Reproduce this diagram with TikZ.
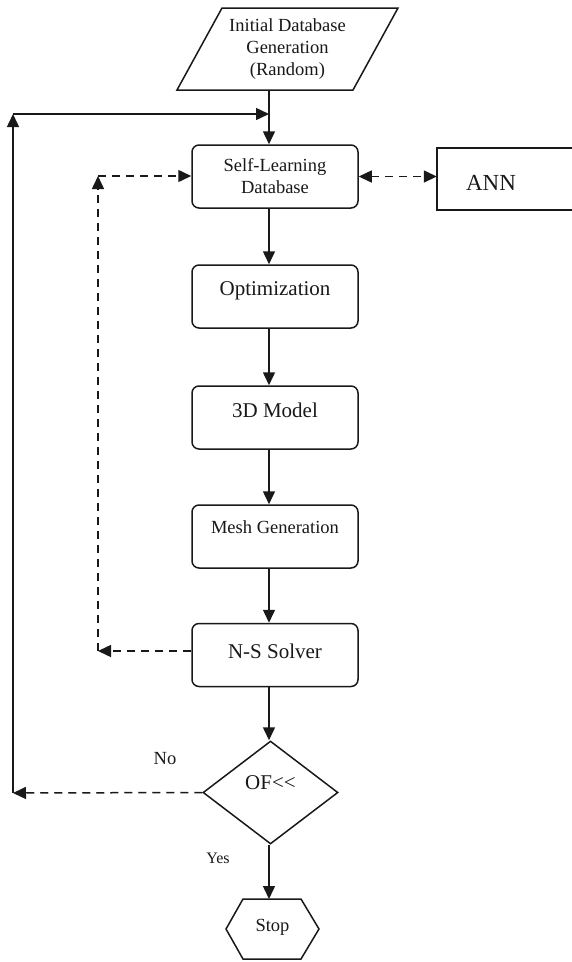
\documentclass[tikz,border=0pt]{standalone}
\usepackage{fontspec}
\setmainfont{Liberation Serif}
\usetikzlibrary{arrows.meta,shapes.geometric}
\begin{document}
\begin{tikzpicture}[x=1pt,y=-1pt,
  ink/.style={draw=black!90, line width=1.5pt},
  box/.style={ink, rounded corners=7pt, minimum width=166pt, minimum height=63pt, inner sep=0pt},
  flow/.style={ink, -{Triangle[length=13pt,width=12pt]}},
  dflow/.style={flow, dash pattern=on 8pt off 6pt},
  txt/.style={text=black!90, inner sep=0pt, align=center},
  fS/.style={font=\fontsize{16}{19}\selectfont},
  fA/.style={font=\fontsize{18.5}{22}\selectfont},
  fB/.style={font=\fontsize{21}{25}\selectfont},
  fC/.style={font=\fontsize{23}{27}\selectfont},
]
\useasboundingbox[fill=white] (0,0) rectangle (571,962);
\coordinate (mx) at (269,0);

% initial database (parallelogram)
\draw[ink] (222,8) -- (398,8) -- (353,90) -- (177,90) -- cycle;
\node[txt,fA] (init) at (287.5,49) {Initial Database\\Generation\\(Random)};
\coordinate (initb) at (269,90);

% process boxes
\node[box, label={[txt,fA]center:{Self-Learning\\Database}}] (sl) at (275,176.5) {};
\node[box, label={[txt,fB,yshift=6pt]center:Optimization}] (opt) at (275,296.5) {};
\node[box, label={[txt,fB,yshift=7pt]center:3D Model}] (tdm) at (275,417.5) {};
\node[box, label={[txt,fA,yshift=9pt]center:Mesh Generation}] (mesh) at (275,536.5) {};
\node[box, label={[txt,fB,yshift=4pt]center:N-S Solver}] (ns) at (275,655) {};

% ANN (its right side runs off the page)
\node[minimum width=180pt, minimum height=62pt, inner sep=0pt,
      label={[txt,fC,xshift=-36pt,yshift=-4pt]center:ANN}] (ann) at (527,179) {};
\draw[ink] (ann.north east) -- (ann.north west) -- (ann.south west) -- (ann.south east);

% decision
\node[ink, diamond, minimum width=135pt, minimum height=103pt, inner sep=0pt,
      label={[txt,fB,yshift=10pt]center:OF<\kern0pt<}] (of) at (270.5,792.5) {};

% stop hexagon
\draw[ink] (226,929) -- (243,899) -- (301,899) -- (319,929) -- (301,959) -- (243,959) -- cycle;
\node[txt,fA] (stop) at (272.5,927) {Stop};
\coordinate (stoptop) at (269,899);

% labels
\node[txt,fA] (no) at (165,759) {No};
\node[txt,fS] (yes) at (218,858) {Yes};

% main flow
\draw[flow] (initb) -- (sl.north -| mx);
\draw[flow] (sl.south -| mx) -- (opt.north -| mx);
\draw[flow] (opt.south -| mx) -- (tdm.north -| mx);
\draw[flow] (tdm.south -| mx) -- (mesh.north -| mx);
\draw[flow] (mesh.south -| mx) -- (ns.north -| mx);
\draw[flow] (ns.south -| mx) -- (of.north -| mx);
\draw[flow] (of.south -| mx) -- (stoptop);

% outer loop
\coordinate (lt) at (13,114);
\coordinate (lb) at (13,793);
\draw[dflow] (of.west) -- (lb);
\draw[flow] (lb) -- (lt);
\draw[flow] (lt) -- (lt -| mx);

% inner dashed loop
\coordinate (dt) at (98,176);
\coordinate (db) at (98,651);
\draw[dflow] (db -| ns.west) -- (db);
\draw[dflow] (db) -- (dt);
\draw[dflow] (dt) -- (dt -| sl.west);

% SL <-> ANN
\draw[dflow, {Triangle[length=13pt,width=12pt]}-{Triangle[length=13pt,width=12pt]}] (sl.east) -- (sl.east -| ann.west);
\end{tikzpicture}
\end{document}
